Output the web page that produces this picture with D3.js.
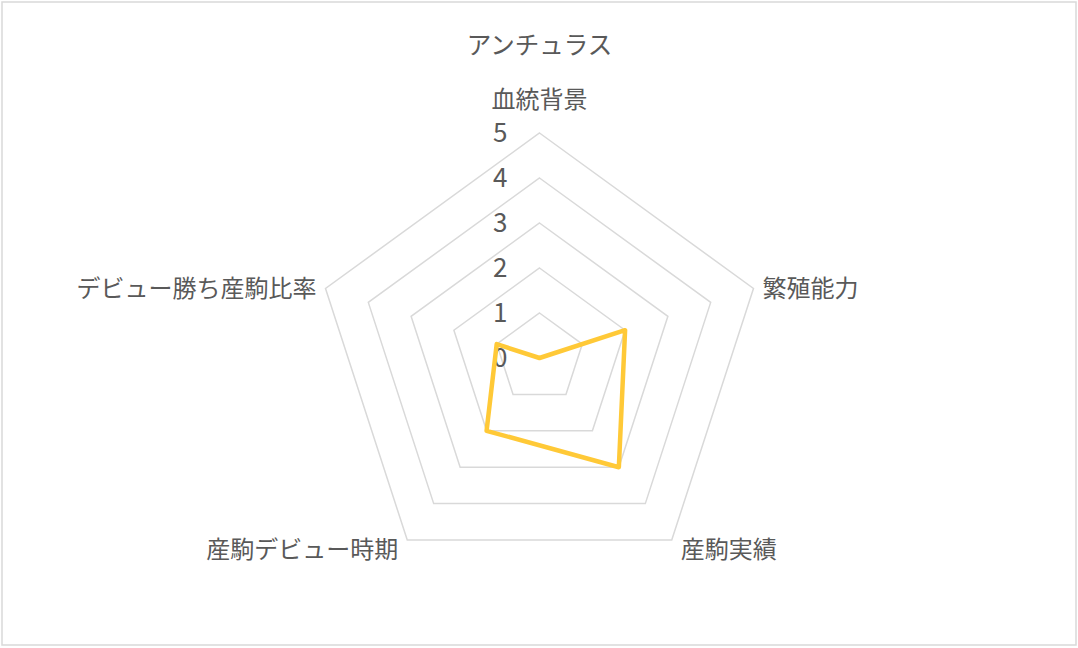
<!DOCTYPE html>
<html>
<head>
<meta charset="utf-8">
<script src="https://cdn.jsdelivr.net/npm/d3@7"></script>
<style>
  body { margin: 0; background: #fff; }
  text { font-family: "Noto Sans CJK JP", "Noto Sans", sans-serif; fill: #595959; }
</style>
</head>
<body>
<div id="chart-area"></div>
<script>
// Radar chart: アンチュラス

var title = "アンチュラス";
var axes = ["血統背景", "繁殖能力", "産駒実績", "産駒デビュー時期", "デビュー勝ち産駒比率"];
var values = [0, 2, 3, 2, 1];
var ticks = [0, 1, 2, 3, 4, 5];

var width = 1078, height = 648;
var cx = 539.5, cy = 358, radius = 225;

var svg = d3.select("#chart-area")
    .append("svg")
        .attr("width", width)
        .attr("height", height);

// chart frame
svg.append("rect")
    .attr("x", 2).attr("y", 2)
    .attr("width", width - 4).attr("height", height - 5)
    .attr("fill", "#fff")
    .attr("stroke", "#d9d9d9")
    .attr("stroke-width", 1.5);

var g = svg.append("g")
    .attr("transform", "translate(" + cx + "," + cy + ")");

//////////  Scales  ///////////
var rScale = d3.scaleLinear()
    .domain([0, 5])
    .range([0, radius]);

var angle = d3.scaleLinear()
    .domain([0, axes.length])
    .range([0, 2 * Math.PI]);

function point(i, v) {
    var a = angle(i);
    return [rScale(v) * Math.sin(a), -rScale(v) * Math.cos(a)];
}

// grid rings
var ring = d3.line();
ticks.slice(1).forEach(function(t) {
    var pts = axes.map(function(d, i) { return point(i, t); });
    g.append("path")
        .attr("d", ring(pts) + "Z")
        .attr("fill", "none")
        .attr("stroke", "#d9d9d9")
        .attr("stroke-width", 1.5);
});

// tick labels
g.selectAll(".tick-label")
    .data(ticks)
    .enter()
    .append("text")
        .attr("class", "tick-label")
        .attr("x", -32)
        .attr("y", function(d) { return -rScale(d); })
        .attr("dy", "0.35em")
        .attr("text-anchor", "end")
        .attr("font-size", "26px")
        .text(function(d) { return d; });

// axis labels
g.selectAll(".axis-label")
    .data(axes)
    .enter()
    .append("text")
        .attr("class", "axis-label")
        .attr("font-size", "24px")
        .attr("x", function(d, i) {
            var p = point(i, 5);
            var s = Math.sin(angle(i));
            if (Math.abs(s) < 0.01) return p[0];
            return p[0] + (s > 0 ? 9 : -9);
        })
        .attr("y", function(d, i) {
            var p = point(i, 5);
            var c = Math.cos(angle(i));
            if (c > 0.99) return p[1] - 33;
            if (c < 0) return p[1] + 10;
            return p[1];
        })
        .attr("dy", "0.35em")
        .attr("text-anchor", function(d, i) {
            var s = Math.sin(angle(i));
            if (Math.abs(s) < 0.01) return "middle";
            return s > 0 ? "start" : "end";
        })
        .text(function(d) { return d; });

// data polygon
var pts = values.map(function(v, i) { return point(i, v); });
g.append("path")
    .attr("d", ring(pts) + "Z")
    .attr("fill", "none")
    .attr("stroke", "#FFC937")
    .attr("stroke-width", 4.5)
    .attr("stroke-linejoin", "round");

// title
svg.append("text")
    .attr("x", cx)
    .attr("y", 45)
    .attr("dy", "0.35em")
    .attr("text-anchor", "middle")
    .attr("font-size", "24.5px")
    .text(title);
</script>
</body>
</html>
